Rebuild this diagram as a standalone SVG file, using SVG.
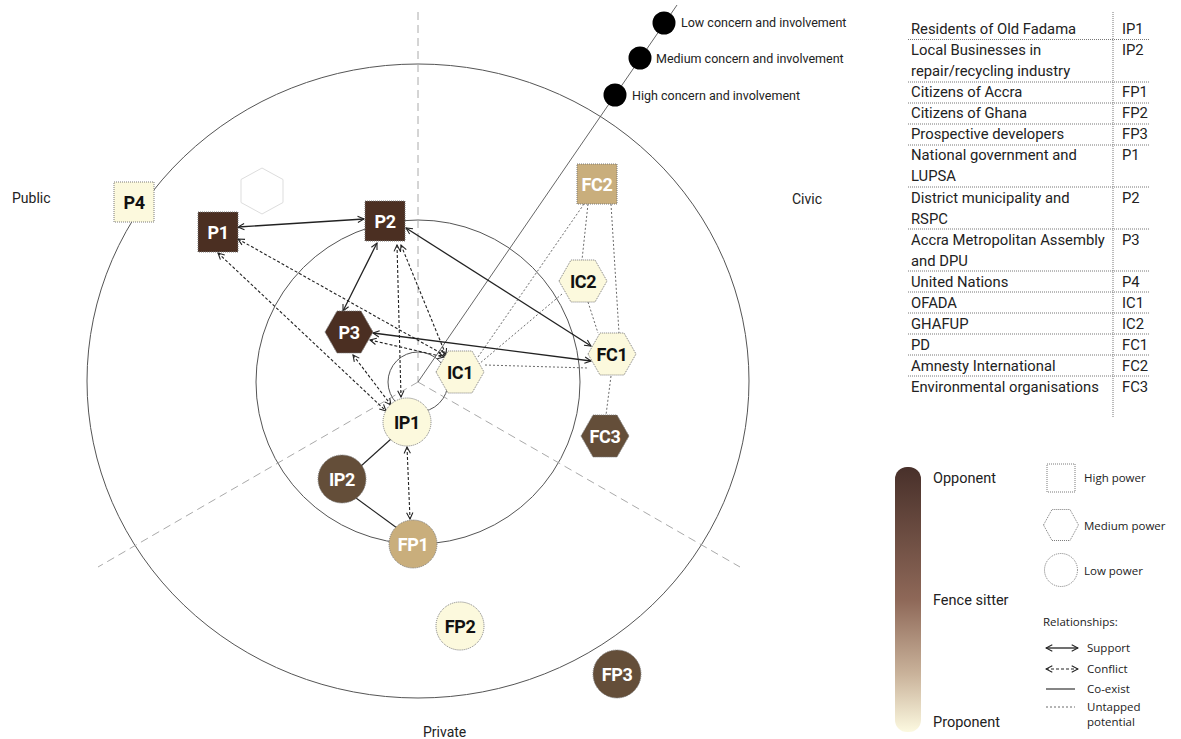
<svg xmlns="http://www.w3.org/2000/svg" width="1181" height="739" viewBox="0 0 1181 739">
<defs>
<style>
.lbl{font-family:Roboto,"Liberation Sans",sans-serif;fill:#222}
.nd{font-family:Roboto,"Liberation Sans",sans-serif;font-weight:bold;font-size:18px;text-anchor:middle;letter-spacing:-0.4px}
.wt{fill:#fff}
.bk{fill:#111}
.sh{stroke:#7a7a7a;stroke-width:1;stroke-dasharray:1 1}
.dk{fill:#4b2f22}
.md{fill:#644e39}
.tn{fill:#c9ae7c}
.cr{fill:#fcf9dd}
.sup{fill:none;stroke:#222;stroke-width:1.3;marker-start:url(#ah);marker-end:url(#ah)}
.con{fill:none;stroke:#222;stroke-width:1.1;stroke-dasharray:3 2;marker-start:url(#ah);marker-end:url(#ah)}
.coe{fill:none;stroke:#222;stroke-width:1.1}
.unt{fill:none;stroke:#444;stroke-width:0.8;stroke-dasharray:2 2}
.tbl{font-family:Roboto,"Liberation Sans",sans-serif;font-size:14.8px;fill:#222}
.sep{stroke:#777;stroke-width:1;stroke-dasharray:1 1}
.lg{font-family:"Open Sans","Liberation Sans",sans-serif;font-size:11.5px;fill:#222}
</style>
<marker id="ah" viewBox="0 0 10 10" refX="9" refY="5" markerWidth="9" markerHeight="9" markerUnits="userSpaceOnUse" orient="auto-start-reverse">
<path d="M2,1.5 L9,5 L2,8.5" fill="none" stroke="#222" stroke-width="1.2"/>
</marker>
<linearGradient id="grad" x1="0" y1="0" x2="0" y2="1">
<stop offset="0" stop-color="#48302a"/>
<stop offset="0.5" stop-color="#8e6858"/>
<stop offset="0.78" stop-color="#c9b29a"/>
<stop offset="1" stop-color="#fcf9e0"/>
</linearGradient>
</defs>
<rect width="1181" height="739" fill="#fff"/>

<g id="background">
<ellipse cx="418" cy="381" rx="331" ry="317" fill="none" stroke="#555" stroke-width="1"/>
<circle cx="418" cy="382" r="162" fill="none" stroke="#555" stroke-width="1"/>
<circle cx="418" cy="382" r="30" fill="none" stroke="#555" stroke-width="1"/>
<g stroke="#aaa" stroke-width="1" stroke-dasharray="8 5" fill="none">
<line x1="418" y1="12" x2="418" y2="382"/>
<line x1="418" y1="382" x2="98" y2="567"/>
<line x1="418" y1="382" x2="740" y2="567"/>
</g>
<line x1="418" y1="382" x2="677" y2="5" stroke="#555" stroke-width="0.9"/>
<circle cx="664" cy="23" r="11.5" fill="#000"/>
<circle cx="640" cy="58" r="11.5" fill="#000"/>
<circle cx="615" cy="95" r="11.5" fill="#000"/>
<text class="lbl" x="681" y="27" font-size="12.5">Low concern and involvement</text>
<text class="lbl" x="656" y="63" font-size="12.5">Medium concern and involvement</text>
<text class="lbl" x="632" y="100" font-size="12.5">High concern and involvement</text>
<text class="lbl" x="12" y="203" font-size="14">Public</text>
<text class="lbl" x="792" y="204" font-size="14">Civic</text>
<text class="lbl" x="423" y="737" font-size="14">Private</text>
<polygon points="262,168 283,179.5 283,202.5 262,214 241,202.5 241,179.5" fill="none" stroke="#ddd" stroke-width="1"/>
</g>

<g id="connectors">
<line class="sup" x1="238" y1="227" x2="364" y2="219"/>
<line class="sup" x1="377" y1="243" x2="343" y2="311"/>
<line class="sup" x1="406" y1="228" x2="591" y2="346"/>
<line class="sup" x1="373" y1="333" x2="591" y2="361"/>
<line class="con" x1="238" y1="239" x2="446" y2="356"/>
<line class="con" x1="218" y1="253" x2="386" y2="411"/>
<line class="con" x1="353" y1="355" x2="391" y2="405"/>
<line class="con" x1="370" y1="340" x2="444" y2="357"/>
<line class="con" x1="401" y1="245" x2="446" y2="355"/>
<line class="con" x1="397" y1="245" x2="401" y2="397"/>
<line class="con" x1="407" y1="447" x2="410" y2="519"/>
<line class="coe" x1="391" y1="439" x2="361" y2="466"/>
<line class="coe" x1="356" y1="498" x2="397" y2="528"/>
<line class="unt" x1="588" y1="204" x2="582" y2="260"/>
<line class="unt" x1="611" y1="204" x2="619" y2="333"/>
<line class="unt" x1="584" y1="204" x2="478" y2="357"/>
<line class="unt" x1="562" y1="294" x2="479" y2="364"/>
<line class="unt" x1="588" y1="302" x2="598" y2="333"/>
<line class="unt" x1="485" y1="365" x2="588" y2="368"/>
<line class="unt" x1="611" y1="376" x2="606" y2="415"/>
</g>

<g id="P4" transform="translate(134,202)"><rect class="sh cr" x="-20" y="-20" width="40" height="40"/><text class="nd bk" y="6.5">P4</text></g>
<g id="P1" transform="translate(218,232)"><rect class="sh dk" x="-20" y="-20" width="40" height="40"/><text class="nd wt" y="6.5">P1</text></g>
<g id="P2" transform="translate(385,221)"><rect class="sh dk" x="-20" y="-20" width="40" height="40"/><text class="nd wt" y="6.5">P2</text></g>
<g id="FC2" transform="translate(597,184)"><rect class="sh tn" x="-20" y="-20" width="40" height="40"/><text class="nd wt" y="6.5">FC2</text></g>
<g id="P3" transform="translate(349,332)"><polygon class="sh dk" points="-24,0 -12,-21 12,-21 24,0 12,21 -12,21"/><text class="nd wt" y="6.5">P3</text></g>
<g id="IC1" transform="translate(460,372)"><polygon class="sh cr" points="-24,0 -12,-21 12,-21 24,0 12,21 -12,21"/><text class="nd bk" y="6.5">IC1</text></g>
<g id="IC2" transform="translate(583,281)"><polygon class="sh cr" points="-24,0 -12,-21 12,-21 24,0 12,21 -12,21"/><text class="nd bk" y="6.5">IC2</text></g>
<g id="FC1" transform="translate(612,354)"><polygon class="sh cr" points="-24,0 -12,-21 12,-21 24,0 12,21 -12,21"/><text class="nd bk" y="6.5">FC1</text></g>
<g id="FC3" transform="translate(605,436)"><polygon class="sh md" points="-24,0 -12,-21 12,-21 24,0 12,21 -12,21"/><text class="nd wt" y="6.5">FC3</text></g>
<g id="IP1" transform="translate(407,422)"><circle class="sh cr" r="24"/><text class="nd bk" y="6.5">IP1</text></g>
<g id="IP2" transform="translate(342,479)"><circle class="sh md" r="24"/><text class="nd wt" y="6.5">IP2</text></g>
<g id="FP1" transform="translate(413,544)"><circle class="sh tn" r="24"/><text class="nd wt" y="6.5">FP1</text></g>
<g id="FP2" transform="translate(460,626)"><circle class="sh cr" r="24"/><text class="nd bk" y="6.5">FP2</text></g>
<g id="FP3" transform="translate(617,674)"><circle class="sh md" r="24"/><text class="nd wt" y="6.5">FP3</text></g>

<g id="table">
<line class="sep" x1="1113" y1="12" x2="1113" y2="417"/>
<g class="sep">
<line x1="908" y1="39.5" x2="1150" y2="39.5"/>
<line x1="908" y1="82" x2="1150" y2="82"/>
<line x1="908" y1="103" x2="1150" y2="103"/>
<line x1="908" y1="124" x2="1150" y2="124"/>
<line x1="908" y1="145" x2="1150" y2="145"/>
<line x1="908" y1="187" x2="1150" y2="187"/>
<line x1="908" y1="229" x2="1150" y2="229"/>
<line x1="908" y1="271" x2="1150" y2="271"/>
<line x1="908" y1="292" x2="1150" y2="292"/>
<line x1="908" y1="313" x2="1150" y2="313"/>
<line x1="908" y1="334" x2="1150" y2="334"/>
<line x1="908" y1="355" x2="1150" y2="355"/>
<line x1="908" y1="376" x2="1150" y2="376"/>
</g>
<text class="tbl" x="911" y="34">Residents of Old Fadama</text><text class="tbl" x="1122" y="34">IP1</text>
<text class="tbl" x="911" y="55">Local Businesses in</text><text class="tbl" x="1122" y="55">IP2</text>
<text class="tbl" x="911" y="76">repair/recycling industry</text>
<text class="tbl" x="911" y="97">Citizens of Accra</text><text class="tbl" x="1122" y="97">FP1</text>
<text class="tbl" x="911" y="118">Citizens of Ghana</text><text class="tbl" x="1122" y="118">FP2</text>
<text class="tbl" x="911" y="139">Prospective developers</text><text class="tbl" x="1122" y="139">FP3</text>
<text class="tbl" x="911" y="160">National government and</text><text class="tbl" x="1122" y="160">P1</text>
<text class="tbl" x="911" y="181">LUPSA</text>
<text class="tbl" x="911" y="203">District municipality and</text><text class="tbl" x="1122" y="203">P2</text>
<text class="tbl" x="911" y="224">RSPC</text>
<text class="tbl" x="911" y="245">Accra Metropolitan Assembly</text><text class="tbl" x="1122" y="245">P3</text>
<text class="tbl" x="911" y="266">and DPU</text>
<text class="tbl" x="911" y="287">United Nations</text><text class="tbl" x="1122" y="287">P4</text>
<text class="tbl" x="911" y="308">OFADA</text><text class="tbl" x="1122" y="308">IC1</text>
<text class="tbl" x="911" y="329">GHAFUP</text><text class="tbl" x="1122" y="329">IC2</text>
<text class="tbl" x="911" y="350">PD</text><text class="tbl" x="1122" y="350">FC1</text>
<text class="tbl" x="911" y="371">Amnesty International</text><text class="tbl" x="1122" y="371">FC2</text>
<text class="tbl" x="911" y="392">Environmental organisations</text><text class="tbl" x="1122" y="392">FC3</text>
</g>

<g id="legend">
<rect x="895" y="467" width="26" height="265" rx="12" fill="url(#grad)"/>
<text class="lbl" x="933" y="483" font-size="14.5">Opponent</text>
<text class="lbl" x="933" y="605" font-size="14.5">Fence sitter</text>
<text class="lbl" x="933" y="727" font-size="14.5">Proponent</text>
<rect x="1047" y="464" width="28" height="28" fill="none" class="sh"/>
<text class="lg" x="1084" y="482">High power</text>
<polygon points="1043.5,525 1052,509.5 1070,509.5 1078.5,525 1070,540.5 1052,540.5" fill="none" class="sh"/>
<text class="lg" x="1084" y="530">Medium power</text>
<circle cx="1061" cy="570" r="16.5" fill="none" class="sh"/>
<text class="lg" x="1084" y="575">Low power</text>
<text class="lg" x="1043" y="626">Relationships:</text>
<line class="sup" x1="1046" y1="648" x2="1078" y2="648"/>
<text class="lg" x="1087" y="652">Support</text>
<line class="con" x1="1046" y1="669" x2="1078" y2="669"/>
<text class="lg" x="1087" y="673">Conflict</text>
<line class="coe" x1="1046" y1="689" x2="1075" y2="689"/>
<text class="lg" x="1087" y="693">Co-exist</text>
<line class="unt" x1="1046" y1="707" x2="1075" y2="707"/>
<text class="lg" x="1087" y="711">Untapped</text>
<text class="lg" x="1087" y="726">potential</text>
</g>
</svg>
